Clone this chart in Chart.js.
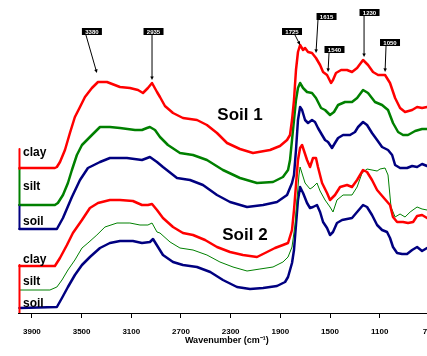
<!DOCTYPE html>
<html><head><meta charset="utf-8">
<script src="https://cdn.jsdelivr.net/npm/chart.js@4"></script>
<style>html,body{margin:0;padding:0;overflow:hidden;background:#fff;width:427px;height:356px}canvas{display:block}</style>
</head><body>
<canvas id="c" width="460" height="356"></canvas>
<script>
// ---- data (wavenumber in cm-1, absorbance in arbitrary offset units) ----
const tickValues = [3900,3500,3100,2700,2300,1900,1500,1100,700];
const axisTitle = 'Wavenumber (cm\u207B\u00B9)';

const clay1Wn = [4000,3715,3699,3674,3634,3594,3554,3513,3473,3417,3368,3296,3191,3111,3046,3006,2966,2933,2893,2869,2829,2764,2684,2571,2491,2410,2329,2225,2120,1983,1903,1846,1822,1806,1790,1774,1758,1741,1717,1701,1677,1645,1613,1580,1556,1524,1492,1476,1452,1411,1363,1323,1282,1234,1194,1154,1113,1057,1017,976,936,896,839,799,759,719,650];
const clay1Abs = [145,145,146,151,163,180,196,206,216,225,231,231,226,225,223,220,225,230,221,216,207,200,195,193,188,180,170,164,160,163,167,173,178,193,213,243,261,268,263,265,261,260,255,248,241,238,230,233,240,243,243,241,245,253,248,241,238,238,230,215,205,201,203,206,205,206,207];

const silt1Wn = [4000,3715,3691,3650,3610,3578,3538,3497,3417,3352,3272,3191,3070,3014,2974,2950,2909,2869,2805,2708,2603,2491,2362,2225,2088,1959,1879,1838,1822,1806,1790,1774,1758,1741,1717,1685,1645,1613,1572,1540,1500,1468,1435,1379,1323,1282,1234,1194,1138,1081,1033,993,952,912,872,815,759,719,650];
const silt1Abs = [108,108,110,118,130,143,158,168,178,186,186,185,183,183,185,186,183,176,168,160,158,153,143,135,130,131,136,143,153,173,193,213,225,230,225,221,220,215,205,203,198,201,208,211,211,215,223,220,211,208,203,190,181,178,178,182,184,184,184];

const soil1Wn = [4000,3699,3650,3578,3513,3449,3352,3272,3135,3014,2950,2893,2845,2732,2627,2523,2410,2305,2168,2039,1927,1846,1806,1790,1774,1758,1741,1725,1701,1677,1645,1621,1597,1564,1540,1516,1484,1460,1435,1395,1339,1299,1274,1234,1202,1162,1121,1081,1033,1000,976,936,880,839,799,759,719,650];
const soil1Abs = [84,84,95,116,133,145,151,155,155,153,156,151,146,135,133,128,118,111,106,108,111,118,130,138,163,193,206,203,193,190,193,191,185,178,173,171,165,170,175,178,178,181,186,191,188,180,173,166,163,158,148,145,145,147,146,149,147,147];

const clay2Wn = [4000,3715,3674,3618,3570,3497,3433,3368,3272,3191,3087,3014,2966,2933,2893,2845,2764,2684,2603,2506,2410,2305,2201,2088,2007,1943,1879,1838,1806,1790,1774,1758,1741,1725,1685,1661,1637,1613,1597,1564,1524,1500,1460,1419,1363,1323,1282,1234,1202,1162,1121,1073,1017,993,960,912,872,831,799,759,719,650];
const clay2Abs = [47,47,55,68,80,93,105,110,113,113,112,108,108,109,103,95,86,80,78,73,66,61,58,56,61,65,68,70,83,103,128,153,165,168,153,146,155,155,146,130,120,113,118,126,128,126,133,143,141,133,123,116,108,96,91,91,90,91,97,98,95,95];

const silt2Wn = [4000,3755,3699,3658,3610,3554,3497,3449,3377,3312,3215,3111,3030,2966,2933,2893,2869,2788,2708,2603,2491,2386,2281,2168,2064,1959,1879,1838,1806,1782,1766,1750,1741,1701,1661,1637,1605,1580,1540,1500,1476,1444,1395,1323,1282,1242,1202,1121,1097,1057,1033,1009,976,936,896,855,799,759,719,650];
const silt2Abs = [23,23,26,33,43,53,65,70,78,86,90,90,88,88,90,81,80,71,65,63,58,51,46,42,44,46,51,56,66,88,113,138,146,130,124,126,130,122,113,106,101,113,118,118,126,140,144,142,144,145,138,106,96,99,96,101,106,104,103,103];

const soil2Wn = [4000,3699,3658,3610,3554,3497,3433,3352,3272,3191,3087,3014,2950,2925,2885,2845,2764,2684,2571,2464,2362,2249,2144,2039,1927,1862,1838,1806,1790,1774,1758,1741,1717,1685,1661,1637,1605,1580,1556,1524,1500,1476,1444,1403,1323,1282,1234,1202,1162,1121,1081,1041,1017,993,960,920,880,839,799,759,719,650];
const soil2Abs = [5,6,15,26,38,48,56,65,70,72,72,70,71,74,66,58,51,48,46,41,33,26,24,25,27,31,36,50,63,88,113,126,120,110,105,106,108,101,91,85,78,81,90,93,95,101,108,106,98,88,83,81,75,66,60,59,59,63,66,62,65,65];

// offset brackets at the start of each trace: [wavenumber, top, bottom]
const bracketWn = 4000;
const bracketClay1 = [164,144];
const bracketSilt1 = [144,108];
const bracketSoil1 = [108,84];
const bracketSoil2 = [48,0];

// trace labels (wavenumber, absorbance) and set labels
const traceNames = ['clay','silt','soil','clay','silt','soil'];
const traceNameWn = [3972,3972,3972,3972,3972,3972];
const traceNameAbs = [160,126,91,53,31,9];
const setNames = ['Soil 1','Soil 2'];
const setNameWn = [2225,2185];
const setNameAbs = [198,78];

// peak annotations
const peakLabels = ['3380','2935','1725','1615','1540','1230','1050'];
const peakBoxWn = [3417,2921,1806,1528,1464,1182,1017];
const peakBoxAbs = [281.5,281.5,281.5,296.5,263.5,300.5,270.5];
const peakTailWn = [3465,2933,1782,1597,1508,1226,1049];
const peakTailAbs = [278,278,278,293,260,297,267];
const peakTipWn = [3377,2933,1741,1613,1516,1226,1057];
const peakTipAbs = [240,233,268,260,241,256,241];

// ---- chart ----
const RED='#ff0000', GREEN='#008000', BLUE='#000080';
const FONT='"Liberation Sans", Arial, Helvetica, sans-serif';
const zip = (xs, ys) => xs.map((x,i)=>({x, y: ys[i]}));
const bracket = (b) => [{x:bracketWn,y:b[0]},{x:bracketWn,y:b[1]}];
function ds(data,color,w,order){return {data,borderColor:color,borderWidth:w,pointRadius:0,fill:false,tension:0,order,borderJoinStyle:'round',borderCapStyle:'round'};}

const textPlugin = {
  id:'texts',
  afterDatasetsDraw(chart){
    const {ctx, scales:{x,y}} = chart;
    ctx.save();
    ctx.fillStyle='#000';
    ctx.textBaseline='middle';
    ctx.textAlign='left';
    ctx.font='bold 12px '+FONT;
    traceNames.forEach((t,i)=>{
      ctx.fillText(t, x.getPixelForValue(traceNameWn[i]), y.getPixelForValue(traceNameAbs[i]));
    });
    ctx.textAlign='center';
    ctx.font='bold 17px '+FONT;
    setNames.forEach((t,i)=>{
      ctx.fillText(t, x.getPixelForValue(setNameWn[i]), y.getPixelForValue(setNameAbs[i]));
    });
    // arrows
    ctx.strokeStyle='#000'; ctx.lineWidth=1;
    peakLabels.forEach((t,i)=>{
      const x0=x.getPixelForValue(peakTailWn[i]), y0=y.getPixelForValue(peakTailAbs[i]);
      const x1=x.getPixelForValue(peakTipWn[i]), y1=y.getPixelForValue(peakTipAbs[i]);
      const ang=Math.atan2(y1-y0,x1-x0), hl=4;
      ctx.beginPath(); ctx.moveTo(x0,y0); ctx.lineTo(x1-Math.cos(ang)*2,y1-Math.sin(ang)*2); ctx.stroke();
      ctx.beginPath(); ctx.moveTo(x1,y1);
      ctx.lineTo(x1-hl*Math.cos(ang-0.45), y1-hl*Math.sin(ang-0.45));
      ctx.lineTo(x1-hl*Math.cos(ang+0.45), y1-hl*Math.sin(ang+0.45));
      ctx.closePath(); ctx.fill();
      const bx=x.getPixelForValue(peakBoxWn[i]), by=y.getPixelForValue(peakBoxAbs[i]);
      ctx.fillStyle='#000';
      ctx.fillRect(bx-10, by-3.5, 20, 7);
      ctx.fillStyle='#fff';
      ctx.font='bold 6px '+FONT;
      ctx.fillText(t, bx, by+0.5);
      ctx.fillStyle='#000';
    });
    ctx.restore();
  }
};

new Chart(document.getElementById('c'), {
  type:'line',
  data:{datasets:[
    ds(zip(clay1Wn,clay1Abs),RED,2.5,1),
    ds(zip(silt1Wn,silt1Abs),GREEN,2.5,2),
    ds(zip(soil1Wn,soil1Abs),BLUE,2.5,3),
    ds(zip(clay2Wn,clay2Abs),RED,2.5,1),
    ds(zip(silt2Wn,silt2Abs),GREEN,1,2),
    ds(zip(soil2Wn,soil2Abs),BLUE,2.5,3),
    ds(bracket(bracketClay1),RED,2,0),
    ds(bracket(bracketSilt1),GREEN,2,0),
    ds(bracket(bracketSoil1),BLUE,2,0),
    ds(bracket(bracketSoil2),RED,2,0)
  ]},
  options:{
    responsive:false, animation:false, devicePixelRatio:1,
    layout:{padding:{left:18,right:24.4,top:0,bottom:0}},
    plugins:{legend:{display:false},tooltip:{enabled:false}},
    scales:{
      x:{type:'linear',reverse:true,min:650,max:4012,
        afterBuildTicks:(a)=>{a.ticks=tickValues.map(v=>({value:v}));},
        afterFit:(s)=>{s.height=43;},
        grid:{display:true,drawOnChartArea:false,drawTicks:true,tickLength:5,color:'#000',lineWidth:1},
        border:{display:true,color:'#000',width:1},
        ticks:{font:{family:FONT,size:8,weight:'bold'},color:'#000',padding:9,autoSkip:false,maxRotation:0,callback:(v)=>String(v)},
        title:{display:true,text:axisTitle,font:{family:FONT,size:9,weight:'bold'},color:'#000',padding:{top:0,bottom:9.6}}
      },
      y:{display:false,min:0,max:313}
    }
  },
  plugins:[textPlugin]
});
</script>
</body></html>
